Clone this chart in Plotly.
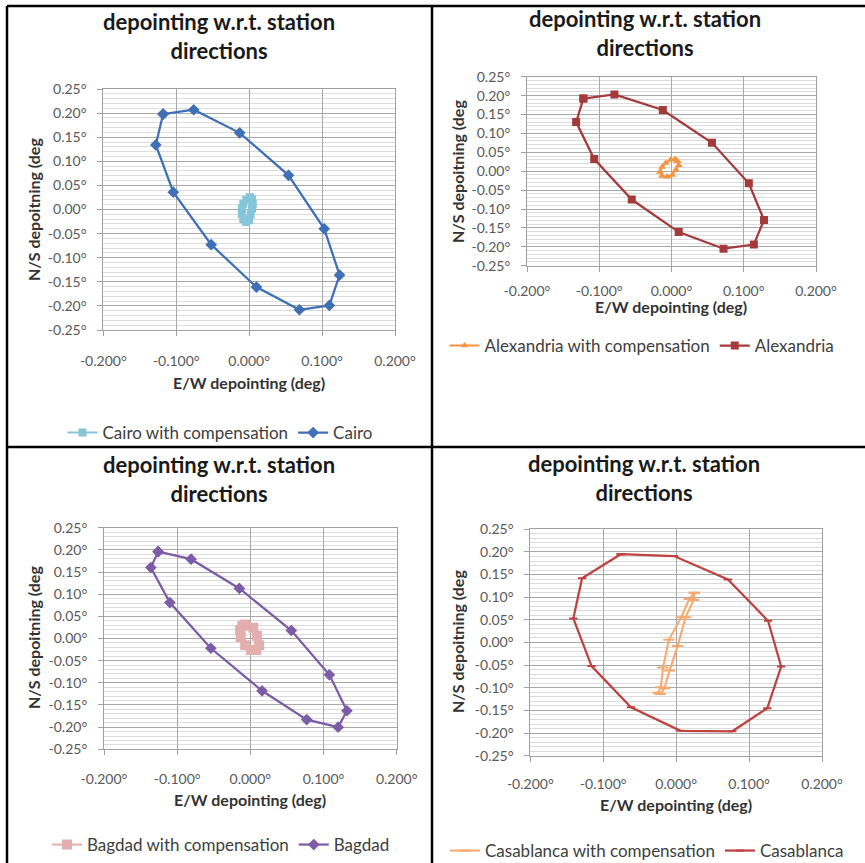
import plotly.graph_objects as go

W, H = 865, 863
FONT = "Lato"

# ---------------- data ----------------
cairo_x = [-0.118, -0.076, -0.013, 0.054, 0.103, 0.124, 0.110, 0.069, 0.010, -0.052, -0.104, -0.128, -0.118]
cairo_y = [0.198, 0.207, 0.159, 0.071, -0.040, -0.136, -0.199, -0.208, -0.161, -0.073, 0.036, 0.134, 0.198]
cairo_comp_x = [0.001, 0.004, 0.005, 0.004, 0.002, 0.000, -0.004, -0.008, -0.010, -0.010, -0.008, -0.004, 0.001]
cairo_comp_y = [0.025, 0.022, 0.012, 0.002, -0.010, -0.022, -0.026, -0.020, -0.010, 0.002, 0.012, 0.020, 0.025]

alex_x = [-0.122, -0.079, -0.012, 0.056, 0.107, 0.128, 0.114, 0.072, 0.010, -0.055, -0.107, -0.132, -0.122]
alex_y = [0.192, 0.203, 0.162, 0.075, -0.032, -0.129, -0.194, -0.205, -0.161, -0.075, 0.032, 0.130, 0.192]
alex_comp_x = [0.008, 0.010, 0.006, 0.001, -0.006, -0.013, -0.016, -0.013, -0.008, -0.001, 0.005, 0.008]
alex_comp_y = [0.027, 0.016, 0.003, -0.010, -0.015, -0.013, -0.002, 0.011, 0.022, 0.030, 0.032, 0.027]

bag_x = [-0.126, -0.081, -0.015, 0.056, 0.108, 0.132, 0.120, 0.077, 0.016, -0.054, -0.110, -0.136, -0.126]
bag_y = [0.196, 0.179, 0.113, 0.018, -0.082, -0.163, -0.200, -0.183, -0.118, -0.022, 0.081, 0.160, 0.196]
bag_comp_x = [-0.007, 0.004, 0.009, 0.012, 0.008, 0.001, -0.007, -0.013, -0.014, -0.011, -0.007]
bag_comp_y = [0.031, 0.024, 0.006, -0.015, -0.026, -0.026, -0.015, 0.003, 0.019, 0.028, 0.031]

casa_x = [-0.076, -0.003, 0.071, 0.126, 0.144, 0.125, 0.077, 0.006, -0.062, -0.116, -0.141, -0.129, -0.076]
casa_y = [0.195, 0.191, 0.139, 0.048, -0.053, -0.145, -0.196, -0.195, -0.143, -0.052, 0.053, 0.142, 0.195]
casa_comp_x = [0.025, 0.024, 0.013, 0.002, -0.009, -0.016, -0.022, -0.025, -0.021, -0.018, -0.010, 0.007, 0.018, 0.025]
casa_comp_y = [0.110, 0.094, 0.056, -0.008, -0.062, -0.101, -0.114, -0.111, -0.099, -0.055, 0.006, 0.056, 0.096, 0.110]

x_ticks = [-0.2, -0.1, 0.0, 0.1, 0.2]
x_tick_labels = ["-0.200°", "-0.100°", "0.000°", "0.100°", "0.200°"]
y_ticks = [-0.25, -0.2, -0.15, -0.1, -0.05, 0.0, 0.05, 0.1, 0.15, 0.2, 0.25]
y_tick_labels = ["-0.25°", "-0.20°", "-0.15°", "-0.10°", "-0.05°", "0.00°", "0.05°", "0.10°", "0.15°", "0.20°", "0.25°"]

title_text = "depointing w.r.t. station<br>directions"
x_title = "E/W depointing (deg)"
y_title = "N/S depoitning (deg"

def px(x):
    return x / W

def py(y):
    return 1 - y / H

# panel geometry in pixels: plot left, right, top, bottom
panels = [
    dict(l=103.3, r=395.0, t=89.0, b=330.0, title=(219, 36), xt=(249, 383), yt=(33, 210), leg=(220, 433), xso=13),
    dict(l=527.0, r=816.0, t=76.7, b=265.7, title=(645, 33), xt=(671, 306), yt=(457, 172), leg=(642, 346), xso=7),
    dict(l=104.0, r=396.7, t=527.7, b=749.3, title=(219, 479), xt=(250, 799), yt=(33, 638), leg=(221, 845), xso=12),
    dict(l=530.3, r=822.0, t=529.3, b=755.7, title=(644, 478), xt=(676, 804), yt=(457, 642), leg=(647, 851), xso=10),
]

series = [
    ("Cairo with compensation", cairo_comp_x, cairo_comp_y, "#86C5DA", "square", 8, 2.0),
    ("Cairo", cairo_x, cairo_y, "#3F70B5", "diamond", 9, 2.25),
    ("Alexandria with compensation", alex_comp_x, alex_comp_y, "#F79440", "triangle-up", 7, 2.0),
    ("Alexandria", alex_x, alex_y, "#A33B3B", "square", 8, 2.25),
    ("Bagdad with compensation", bag_comp_x, bag_comp_y, "#E2AEAE", "square", 10, 2.0),
    ("Bagdad", bag_x, bag_y, "#7C5CA6", "diamond", 9, 2.25),
    ("Casablanca with compensation", casa_comp_x, casa_comp_y, "#F8A86C", "line-ew", 8, 2.0),
    ("Casablanca", casa_x, casa_y, "#BE4340", "line-ew", 6, 2.25),
]

fig = go.Figure()
legend_names = ["legend", "legend2", "legend3", "legend4"]

for i, (name, xs, ys, color, sym, size, lw) in enumerate(series):
    p = i // 2
    sfx = "" if p == 0 else str(p + 1)
    marker = dict(symbol=sym, size=size, color=color)
    if sym == "line-ew":
        marker["line"] = dict(color=color, width=2)
    else:
        marker["line"] = dict(width=0)
    fig.add_trace(go.Scatter(
        x=xs, y=ys, mode="lines+markers", name=name,
        line=dict(color=color, width=lw),
        marker=marker,
        xaxis="x" + sfx, yaxis="y" + sfx,
        legend=legend_names[p],
    ))

layout = dict(
    width=W, height=H,
    margin=dict(l=0, r=0, t=0, b=0, pad=0, autoexpand=False),
    paper_bgcolor="white", plot_bgcolor="white",
    font=dict(family=FONT, color="#404040"),
)

annotations = []
for k, p in enumerate(panels):
    sfx = "" if k == 0 else str(k + 1)
    layout["xaxis" + sfx] = dict(
        domain=[px(p["l"]), px(p["r"])], anchor="y" + sfx,
        range=[-0.2, 0.2], tickmode="array", tickvals=x_ticks, ticktext=x_tick_labels,
        showgrid=True, gridcolor="#A8A8A8", gridwidth=1, zeroline=False,
        showline=True, linecolor="#A0A0A0", linewidth=1, mirror=True,
        ticks="outside", ticklen=5, tickcolor="#A0A0A0", ticklabelstandoff=p["xso"],
        tickfont=dict(family=FONT, size=14, color="#595959"),
        fixedrange=True, automargin=False,
    )
    layout["yaxis" + sfx] = dict(
        domain=[py(p["b"]), py(p["t"])], anchor="x" + sfx,
        range=[-0.25, 0.25], tickmode="array", tickvals=y_ticks, ticktext=y_tick_labels,
        showgrid=True, gridcolor="#A8A8A8", gridwidth=1, zeroline=False,
        showline=True, linecolor="#A0A0A0", linewidth=1, mirror=True,
        ticks="outside", ticklen=5, tickcolor="#A0A0A0", ticklabelstandoff=8,
        tickfont=dict(family=FONT, size=14, color="#595959"),
        minor=dict(tickmode="linear", tick0=-0.25, dtick=0.01, showgrid=True,
                   gridcolor="#DCDCDC", gridwidth=1, ticks=""),
        fixedrange=True, automargin=False,
    )
    layout[legend_names[k]] = dict(
        orientation="h", x=px(p["leg"][0]), y=py(p["leg"][1]),
        xanchor="center", yanchor="middle", bgcolor="rgba(0,0,0,0)",
        font=dict(family=FONT, size=17, color="#404040"),
        itemwidth=30, tracegroupgap=0,
    )
    annotations.append(dict(
        text="<b>" + title_text + "</b>", x=px(p["title"][0]), y=py(p["title"][1]),
        xref="paper", yref="paper", xanchor="center", yanchor="middle", showarrow=False,
        font=dict(family=FONT, size=22, color="#1A1A1A"),
    ))
    annotations.append(dict(
        text="<b>" + x_title + "</b>", x=px(p["xt"][0]), y=py(p["xt"][1]),
        xref="paper", yref="paper", xanchor="center", yanchor="middle", showarrow=False,
        font=dict(family=FONT, size=16, color="#333333"),
    ))
    annotations.append(dict(
        text="<b>" + y_title + "</b>", x=px(p["yt"][0]), y=py(p["yt"][1]),
        xref="paper", yref="paper", xanchor="center", yanchor="middle", showarrow=False,
        textangle=-90, font=dict(family=FONT, size=16, color="#333333"),
    ))

layout["annotations"] = annotations

BL = dict(color="black", width=2.5)
layout["shapes"] = [
    dict(type="line", xref="paper", yref="paper", x0=px(7), x1=1, y0=py(6), y1=py(6), line=BL),
    dict(type="line", xref="paper", yref="paper", x0=px(7), x1=px(7), y0=py(6), y1=0, line=BL),
    dict(type="line", xref="paper", yref="paper", x0=px(432), x1=px(432), y0=py(6), y1=0, line=BL),
    dict(type="line", xref="paper", yref="paper", x0=px(7), x1=1, y0=py(447), y1=py(447), line=BL),
]

fig.update_layout(**layout)
fig.write_html(
    "out.html",
    config={"displayModeBar": False},
    post_script="document.body.style.margin='0';document.body.style.padding='0';"
                "document.body.style.overflow='hidden';",
)
